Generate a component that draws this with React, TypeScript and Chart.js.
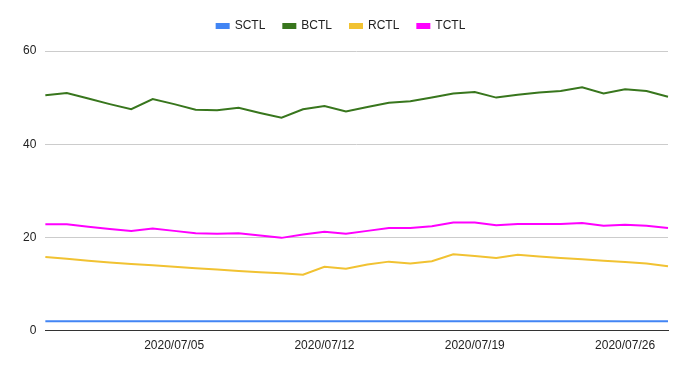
import React, { useEffect, useRef } from "react";
import { Chart, registerables } from "chart.js";

Chart.register(...registerables);

const dates = [
  "2020/06/29", "2020/06/30", "2020/07/01", "2020/07/02", "2020/07/03", "2020/07/04",
  "2020/07/05", "2020/07/06", "2020/07/07", "2020/07/08", "2020/07/09", "2020/07/10",
  "2020/07/11", "2020/07/12", "2020/07/13", "2020/07/14", "2020/07/15", "2020/07/16",
  "2020/07/17", "2020/07/18", "2020/07/19", "2020/07/20", "2020/07/21", "2020/07/22",
  "2020/07/23", "2020/07/24", "2020/07/25", "2020/07/26", "2020/07/27", "2020/07/28",
];
const tickDates = ["2020/07/05", "2020/07/12", "2020/07/19", "2020/07/26"];

const sctl = [
  2, 2, 2, 2, 2, 2, 2, 2, 2, 2, 2, 2, 2, 2, 2, 2, 2, 2, 2, 2, 2, 2, 2, 2, 2, 2, 2, 2, 2, 2,
];
const bctl = [
  50.5, 51.0, 49.8, 48.6, 47.5, 49.7, 48.6, 47.4, 47.3, 47.8, 46.7, 45.7, 47.5, 48.2, 47.0,
  48.0, 48.9, 49.2, 50.0, 50.9, 51.2, 50.0, 50.6, 51.1, 51.4, 52.2, 50.9, 51.8, 51.4, 50.2,
];
const rctl = [
  15.8, 15.4, 15.0, 14.6, 14.3, 14.0, 13.7, 13.4, 13.1, 12.8, 12.5, 12.3, 12.0, 13.7, 13.3,
  14.2, 14.8, 14.4, 14.9, 16.4, 16.0, 15.6, 16.3, 15.9, 15.6, 15.3, 15.0, 14.7, 14.4, 13.8,
];
const tctl = [
  22.8, 22.8, 22.3, 21.8, 21.4, 21.9, 21.4, 20.9, 20.8, 20.9, 20.4, 19.9, 20.6, 21.2, 20.8,
  21.4, 22.0, 22.0, 22.4, 23.2, 23.2, 22.6, 22.9, 22.9, 22.9, 23.1, 22.5, 22.7, 22.5, 22.0,
];

const seriesNames = ["SCTL", "BCTL", "RCTL", "TCTL"];
const seriesColors = ["#4285f4", "#38761d", "#f1c232", "#ff00ff"];

const FONT = "Arial, 'Liberation Sans', sans-serif";

const legendGap = {
  id: "legendGap",
  beforeInit(chart: any) {
    const legend = chart.legend;
    if (!legend) return;
    const origFit = legend.fit;
    legend.fit = function fit() {
      origFit.call(this);
      this.height += 9;
    };
  },
};

export default function App() {
  const ref = useRef<HTMLCanvasElement | null>(null);

  useEffect(() => {
    if (!ref.current) return;
    const values = [sctl, bctl, rctl, tctl];
    const chart = new Chart(ref.current, {
      type: "line",
      data: {
        labels: dates,
        datasets: seriesNames.map((name, i) => ({
          label: name,
          data: values[i],
          borderColor: seriesColors[i],
          backgroundColor: seriesColors[i],
          borderWidth: 2,
          pointRadius: 0,
          pointHoverRadius: 0,
          tension: 0,
          fill: false,
        })),
      },
      plugins: [legendGap],
      options: {
        animation: false,
        responsive: false,
        maintainAspectRatio: false,
        layout: { padding: { left: 14, right: 18, top: 2, bottom: 8 } },
        plugins: {
          legend: {
            position: "top",
            align: "center",
            labels: {
              boxWidth: 12,
              boxHeight: 4,
              padding: 18,
              color: "#222222",
              font: { family: FONT, size: 12 },
            },
          },
          tooltip: { enabled: false },
        },
        scales: {
          x: {
            type: "category",
            offset: false,
            grid: {
              drawTicks: false,
              color: (ctx: any) =>
                ctx.tick && tickDates.includes(dates[ctx.index]) ? "#cccccc" : "rgba(0,0,0,0)",
              lineWidth: 1,
            },
            border: { display: true, color: "#333333", width: 1 },
            ticks: {
              autoSkip: false,
              maxRotation: 0,
              padding: 8,
              color: "#222222",
              font: { family: FONT, size: 12 },
              callback: (_v: any, idx: number) =>
                tickDates.includes(dates[idx]) ? dates[idx] : null,
            },
          },
          y: {
            min: 0,
            max: 60,
            grid: { drawTicks: false, color: "#cccccc" },
            border: { display: false },
            ticks: {
              stepSize: 20,
              padding: 9,
              color: "#222222",
              font: { family: FONT, size: 12 },
            },
          },
        },
      },
    });
    return () => chart.destroy();
  }, []);

  return (
    <div style={{ position: "fixed", left: 0, top: 0, width: 686, height: 369 }}>
      <canvas ref={ref} width={686} height={369} style={{ width: 686, height: 369 }} />
    </div>
  );
}
